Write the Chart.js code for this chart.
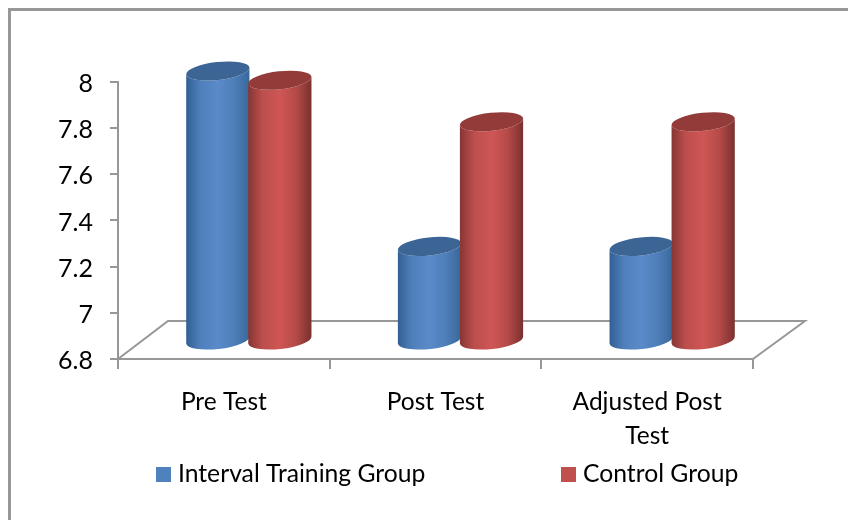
<!DOCTYPE html>
<html>
<head>
<meta charset="utf-8">
<script src="https://cdn.jsdelivr.net/npm/chart.js@4"></script>
<style>
  html, body { margin: 0; padding: 0; background: #fff; overflow: hidden; }
  #wrap { position: relative; width: 848px; height: 520px; overflow: hidden; }
  #frame { position: absolute; left: 8px; top: 8px; width: 1000px; height: 800px; border: 3px solid #979797; box-sizing: border-box; }
  canvas { position: absolute; left: 0; top: 0; }
</style>
</head>
<body>
<div id="wrap">
  <div id="frame"></div>
  <canvas id="chart" width="848" height="520"></canvas>
</div>
<script>
const categories = ['Pre Test', 'Post Test', ['Adjusted Post', 'Test']];
const intervalGroup = [8, 7.24, 7.24];
const controlGroup = [7.96, 7.78, 7.78];

const FONT = 'Lato, Carlito, sans-serif';
const AXIS_COLOR = '#979797';
const TEXT_COLOR = '#000';

// horizontal shading of each cylinder, edge -> middle -> edge
const blueShade = { edgeL: '#315f92', midL: '#4f7fbb', mid: '#5a8ac9', midR: '#4f7fb9', edgeR: '#386899', top: '#3c6595', legend: '#4f81bd' };
const redShade = { edgeL: '#863533', midL: '#bb4e4c', mid: '#cf5654', midR: '#b54b49', edgeR: '#79302e', top: '#933b39', legend: '#c0504d' };

// The 3D look: floor depth and how far the bars sit back from the front plane
const DEPTH_X = 50, DEPTH_Y = 38;
const BAR_SHIFT_X = 25, BAR_SHIFT_TOP = -11, BAR_SHIFT_BASE = -19;
const TILT = -0.11, CAP_RY = 9;

const cylinderPlugin = {
    id: 'cylinders',
    beforeDatasetsDraw(chart) {
        const { ctx, scales: { x, y } } = chart;
        ctx.save();
        ctx.strokeStyle = AXIS_COLOR;
        ctx.lineWidth = 2;
        ctx.beginPath();
        ctx.moveTo(x.left, y.bottom);
        ctx.lineTo(x.left + DEPTH_X, y.bottom - DEPTH_Y);
        ctx.lineTo(x.right + DEPTH_X + 2, y.bottom - DEPTH_Y);
        ctx.lineTo(x.right, y.bottom);
        ctx.stroke();
        ctx.restore();
    },
    afterDatasetsDraw(chart) {
        const { ctx, scales: { y } } = chart;
        const shades = [blueShade, redShade];
        shades.forEach((shade, d) => {
            chart.getDatasetMeta(d).data.forEach(bar => {
                const cx = bar.x + BAR_SHIFT_X;
                const rx = bar.width / 2 + 0.8;
                const topY = bar.y + BAR_SHIFT_TOP;
                const baseY = y.bottom + BAR_SHIFT_BASE;

                const grad = ctx.createLinearGradient(cx - rx, 0, cx + rx, 0);
                grad.addColorStop(0, shade.edgeL);
                grad.addColorStop(0.22, shade.midL);
                grad.addColorStop(0.5, shade.mid);
                grad.addColorStop(0.75, shade.midR);
                grad.addColorStop(1, shade.edgeR);

                ctx.save();
                ctx.fillStyle = grad;
                ctx.beginPath();
                ctx.ellipse(cx, topY, rx, CAP_RY, TILT, Math.PI, 0, true);
                ctx.ellipse(cx, baseY, rx, CAP_RY, TILT, 0, Math.PI, false);
                ctx.closePath();
                ctx.fill();

                ctx.fillStyle = shade.top;
                ctx.beginPath();
                ctx.ellipse(cx, topY, rx, CAP_RY, TILT, 0, Math.PI * 2);
                ctx.fill();
                ctx.restore();
            });
        });

        // legend, placed off-centre like the original
        const legendSpots = [{ box: 156, text: 178 }, { box: 561, text: 583 }];
        ctx.save();
        ctx.font = '24.7px ' + FONT;
        ctx.textBaseline = 'middle';
        chart.data.datasets.forEach((ds, i) => {
            ctx.fillStyle = shades[i].legend;
            ctx.fillRect(legendSpots[i].box, 467, 15, 15);
            ctx.fillStyle = TEXT_COLOR;
            ctx.fillText(ds.label, legendSpots[i].text, 474);
        });
        ctx.restore();
    }
};

new Chart(document.getElementById('chart'), {
    type: 'bar',
    plugins: [cylinderPlugin],
    data: {
        labels: categories,
        datasets: [
            { label: 'Interval Training Group', data: intervalGroup, backgroundColor: 'transparent' },
            { label: 'Control Group', data: controlGroup, backgroundColor: 'transparent' }
        ]
    },
    options: {
        responsive: false,
        animation: false,
        events: [],
        layout: { padding: { top: 82, right: 95, left: 0, bottom: 0 } },
        datasets: { bar: { barPercentage: 1, categoryPercentage: 0.586 } },
        plugins: { legend: { display: false }, tooltip: { enabled: false } },
        scales: {
            x: {
                afterFit: s => { s.height = 161; },
                border: { color: AXIS_COLOR, width: 2 },
                grid: { drawOnChartArea: false, color: AXIS_COLOR, lineWidth: 2, tickLength: 10 },
                ticks: {
                    color: TEXT_COLOR,
                    padding: 16,
                    maxRotation: 0,
                    autoSkip: false,
                    font: { family: FONT, size: 24.5, lineHeight: 1.39 }
                }
            },
            y: {
                min: 6.8,
                max: 8,
                afterFit: s => { s.width = 118; },
                border: { color: AXIS_COLOR, width: 2 },
                grid: { drawOnChartArea: false, color: AXIS_COLOR, lineWidth: 2, tickLength: 8 },
                ticks: {
                    stepSize: 0.2,
                    color: TEXT_COLOR,
                    padding: 17,
                    labelOffset: 2,
                    font: { family: FONT, size: 25 },
                    callback: v => String(+v.toFixed(1))
                }
            }
        }
    }
});
</script>
</body>
</html>
